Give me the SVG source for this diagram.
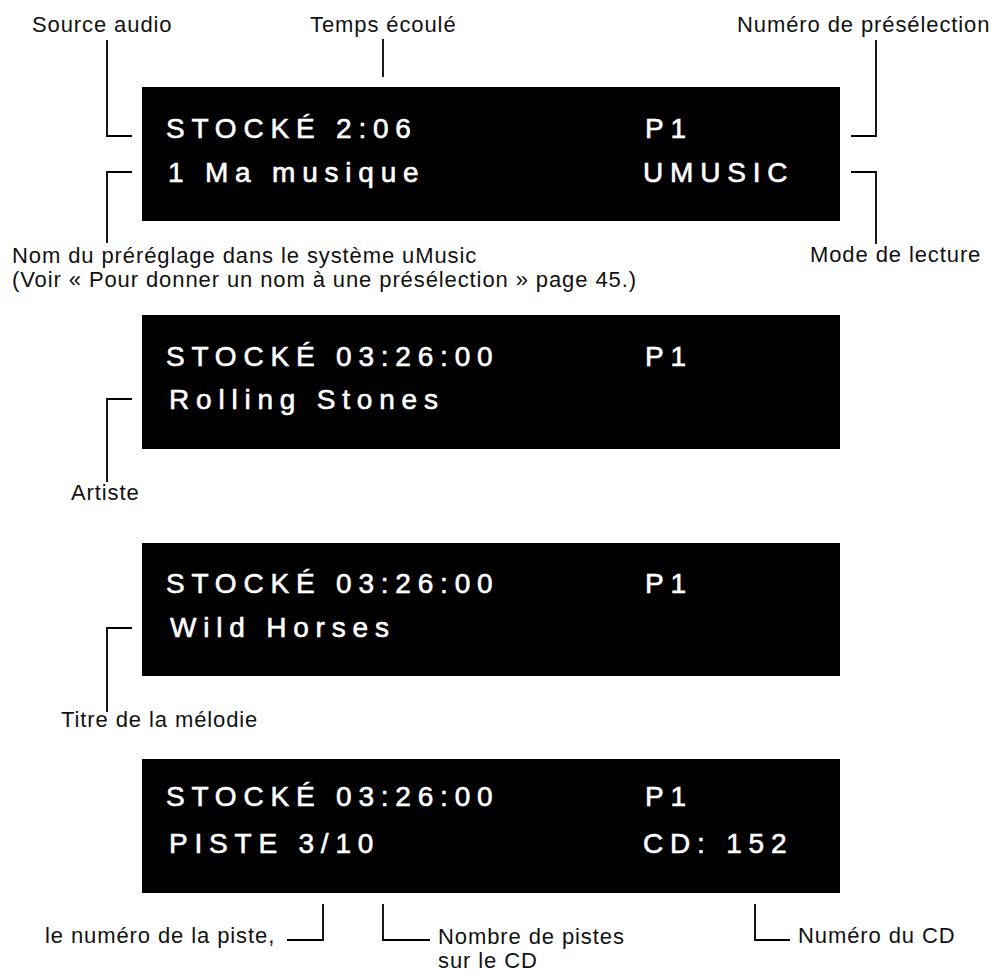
<svg xmlns="http://www.w3.org/2000/svg" width="997" height="972" viewBox="0 0 997 972">
<style>
.lbl{font-family:"Liberation Sans",Arial,Helvetica,sans-serif;font-size:22px;letter-spacing:0.9px;fill:#111}
.disp{font-family:"Liberation Sans",Arial,Helvetica,sans-serif;font-size:28px;letter-spacing:6.8px;fill:#fff;stroke:#fff;stroke-width:0.6px}
.box{fill:#000}
.ln{fill:none;stroke:#000;stroke-width:1.8}
</style>
<rect width="997" height="972" fill="#fff"/>
<g id="display1">
<rect class="box" x="142" y="87" width="698" height="134"/>
<text class="disp" x="166" y="138">STOCKÉ 2:06</text>
<text class="disp" x="645" y="138">P1</text>
<text class="disp" x="168" y="182">1 Ma musique</text>
<text class="disp" x="643" y="182">UMUSIC</text>
</g>
<g id="display2">
<rect class="box" x="142" y="315" width="698" height="134"/>
<text class="disp" x="166" y="366">STOCKÉ 03:26:00</text>
<text class="disp" x="645" y="366">P1</text>
<text class="disp" x="169" y="409">Rolling Stones</text>
</g>
<g id="display3">
<rect class="box" x="142" y="543" width="698" height="133"/>
<text class="disp" x="166" y="593">STOCKÉ 03:26:00</text>
<text class="disp" x="645" y="593">P1</text>
<text class="disp" x="170" y="637">Wild Horses</text>
</g>
<g id="display4">
<rect class="box" x="142" y="759" width="698" height="134"/>
<text class="disp" x="166" y="806">STOCKÉ 03:26:00</text>
<text class="disp" x="645" y="806">P1</text>
<text class="disp" x="169" y="853">PISTE 3/10</text>
<text class="disp" x="643" y="853">CD: 152</text>
</g>
<g id="labels">
<text id="lbl-source" class="lbl" x="32" y="32">Source audio</text>
<text id="lbl-temps" class="lbl" x="310" y="32">Temps écoulé</text>
<text id="lbl-numero" class="lbl" x="737" y="32">Numéro de présélection</text>
<text id="lbl-nom" class="lbl" x="12" y="263">Nom du préréglage dans le système uMusic</text>
<text id="lbl-voir" class="lbl" x="12" y="287">(Voir « Pour donner un nom à une présélection » page 45.)</text>
<text id="lbl-mode" class="lbl" x="810" y="262">Mode de lecture</text>
<text id="lbl-artiste" class="lbl" x="71" y="500">Artiste</text>
<text id="lbl-titre" class="lbl" x="61" y="727">Titre de la mélodie</text>
<text id="lbl-piste" class="lbl" x="45" y="943">le numéro de la piste,</text>
<text id="lbl-nombre" class="lbl" x="438" y="944">Nombre de pistes</text>
<text id="lbl-sur" class="lbl" x="438" y="968">sur le CD</text>
<text id="lbl-cd" class="lbl" x="798" y="943">Numéro du CD</text>
</g>
<g id="connectors">
<polyline class="ln" points="107,40 107,136 132,136"/>
<line class="ln" x1="383" y1="39" x2="383" y2="77"/>
<polyline class="ln" points="876,40 876,136 851,136"/>
<polyline class="ln" points="132,172 107,172 107,243"/>
<polyline class="ln" points="851,172 876,172 876,244"/>
<polyline class="ln" points="132,399 107,399 107,482"/>
<polyline class="ln" points="132,628 107,628 107,712"/>
<polyline class="ln" points="287,940 323,940 323,904"/>
<polyline class="ln" points="383,904 383,940 430,940"/>
<polyline class="ln" points="755,904 755,940 790,940"/>
</g>
</svg>
